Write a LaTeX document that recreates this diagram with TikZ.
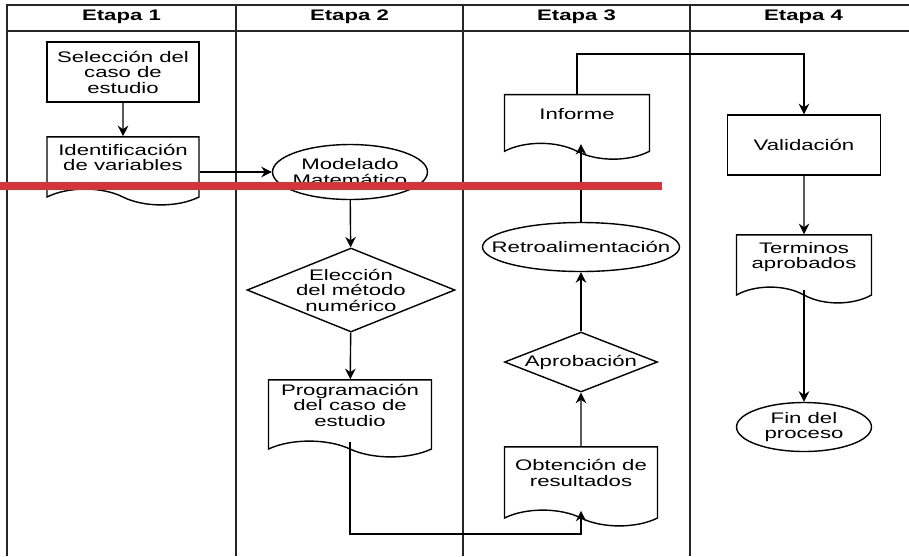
\documentclass[tikz,border=0pt]{standalone}
\usepackage{fontspec}
\setmainfont{Liberation Sans}[FakeStretch=1.45]
\usepackage{tikz}
\usetikzlibrary{shapes.geometric,shapes.symbols,arrows.meta}

\begin{document}
\begin{tikzpicture}[
        x=0.02cm, y=-0.02cm,
        font=\fontsize{8.7}{8.8}\selectfont,
        lane/.style={line width=1.1pt, draw=black!85},
        head/.style={font=\fontsize{8.7}{8.8}\selectfont\bfseries},
        box/.style={draw, line width=0.8pt, align=center, inner sep=0pt},
        doc/.style={box, tape, tape bend top=none, tape bend bottom=out and in, tape bend height=9pt, text depth=0.22cm},
        oval/.style={box, ellipse, inner sep=-1cm},
        choice/.style={box, diamond, inner sep=-1cm},
        arr/.style={line width=0.8pt, -{Stealth[length=6pt, width=6pt]}}]
    \useasboundingbox (0,0) rectangle (909,556);
    \draw[lane] (7,556) -- (7,5) -- (909,5);
    \draw[lane] (7,31) -- (909,31);
    \foreach \x in {236,463,690}
        \draw[lane] (\x,5) -- (\x,556);
    \foreach \i/\x in {1/121.5,2/349.5,3/576.5,4/803.5}
        \node[head] (etapa\i) at (\x,17) {Etapa \i};

    \node[box, minimum width=3.04cm, minimum height=1.2cm] (sel) at (123,72) {Selección del\\caso de\\estudio};
    \node[doc, minimum width=3.04cm, minimum height=1.36cm] (ident) at (123,163) {Identificación\\de variables};
    \node[oval, minimum width=3.1cm, minimum height=1.1cm] (model) at (350,172) {Modelado\\Matemático};
    \node[choice, minimum width=4.16cm, minimum height=1.68cm] (elec) at (351,290) {Elección\\del método\\numérico};
    \node[doc, minimum width=3.26cm, minimum height=1.54cm] (prog) at (350,410.5) {Programación\\del caso de\\estudio};
    \node[doc, minimum width=3.06cm, minimum height=1.58cm] (obt) at (581,478.5) {Obtención de\\resultados};
    \node[choice, minimum width=3.06cm, minimum height=1.2cm] (aprob) at (581,362) {Aprobación};
    \node[oval, minimum width=3.94cm, minimum height=0.98cm] (retro) at (581,247) {Retroalimentación};
    \node[doc, minimum width=2.9cm, minimum height=1.29cm] (inf) at (577,119) {Informe};
    \node[box, minimum width=3.06cm, minimum height=1.2cm] (valid) at (804,145) {Validación};
    \node[doc, minimum width=2.7cm, minimum height=1.36cm] (term) at (804,261) {Terminos\\aprobados};
    \node[oval, minimum width=2.7cm, minimum height=0.98cm] (fin) at (804,427) {Fin del\\proceso};

    \draw[arr] (sel) -- (ident);
    \draw[arr] (ident.east |- model.west) -- (model.west);
    \draw[arr] (model) -- (elec);
    \draw[arr] (elec) -- (prog);
    \draw[arr] (prog.south) -- ++(0,92) -| (obt.south);
    \draw[arr] (obt) -- (aprob);
    \draw[arr] (aprob) -- (retro);
    \draw[arr] (retro.north) -- (retro.north |- inf.south);
    \draw[arr] (inf.north) -- ++(0,-40) -| (valid.north);
    \draw[arr] (valid) -- (term);
    \draw[arr] (term.south) ++(0,2) -- (fin.north);

    \draw[line width=4pt, draw={rgb,255:red,210;green,54;blue,59}] (0,186) -- (662,186);
\end{tikzpicture}
\end{document}
